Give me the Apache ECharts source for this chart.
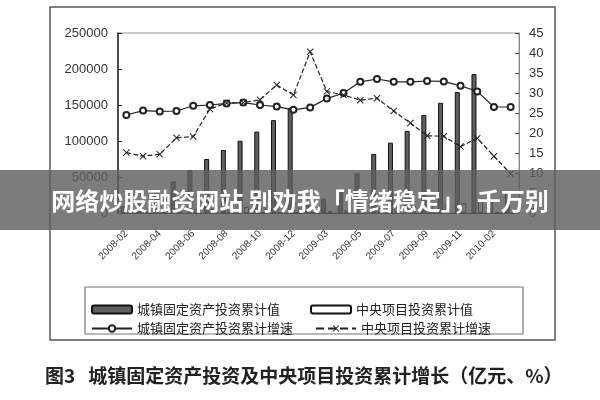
<!DOCTYPE html>
<html>
<head>
<meta charset="utf-8">
<script src="https://cdn.jsdelivr.net/npm/echarts@6/dist/echarts.min.js"></script>
<style>html,body{margin:0;padding:0;background:#fff;}#c{width:600px;height:400px;}</style>
</head>
<body>
<div id="c"></div>
<script>
const categories = ['2008-02','2008-03','2008-04','2008-05','2008-06','2008-07','2008-08','2008-09','2008-10','2008-11','2008-12',
  '2009-02','2009-03','2009-04','2009-05','2009-06','2009-07','2009-08','2009-09','2009-10','2009-11','2009-12',
  '2010-02','2010-03'];
const faiValue = [9400, 17900, 29000, 44000, 59700, 75000, 87500, 100400, 113000, 129000, 146000,
  11000, 20000, 32000, 55000, 82000, 97600, 114000, 136000, 153000, 168000, 193000, 16000, 30000];
const centralValue = [900, 1700, 2700, 3800, 5200, 6200, 7300, 8400, 9600, 10800, 12800,
  1200, 2300, 3500, 5000, 7000, 8200, 9500, 11000, 12500, 14000, 17000, 1400, 2600];
const faiGrowth = [24.5, 25.6, 25.4, 25.5, 26.8, 27.0, 27.4, 27.6, 27.0, 26.6, 25.8,
  26.4, 28.6, 30.0, 32.8, 33.5, 32.8, 32.8, 33.0, 32.9, 31.8, 30.4, 26.5, 26.5];
const centralGrowth = [15.1, 14.2, 14.7, 18.8, 19.1, 26.0, 27.5, 27.6, 28.3, 32.0, 29.5,
  40.3, 30.4, 29.5, 28.2, 28.7, 25.5, 22.5, 19.3, 19.2, 16.6, 18.7, 14.2, 9.8];
const leftTicks = {min: 0, max: 250000, interval: 50000};
const rightTicks = {min: 0, max: 45, interval: 5};
const names = ['城镇固定资产投资累计值', '中央项目投资累计值', '城镇固定资产投资累计增速', '中央项目投资累计增速'];
const caption = '图3   城镇固定资产投资及中央项目投资累计增长（亿元、%）';
const banner = '网络炒股融资网站 别劝我「情绪稳定」，千万别';

const chart = echarts.init(document.getElementById('c'), null, {renderer: 'canvas'});
const xMark = 'path://M0,1L1,0L5,4L9,0L10,1L6,5L10,9L9,10L5,6L1,10L0,9L4,5Z';
const axisFont = {fontFamily: 'Liberation Sans, Arial', fontSize: 13, color: '#333'};
const legendBase = {itemWidth: 40, itemHeight: 8, itemGap: 0,
  textStyle: {fontFamily: 'Noto Sans CJK SC', fontSize: 13, color: '#222'}, selectedMode: false};

chart.setOption({
  animation: false,
  backgroundColor: '#fff',
  grid: {left: 118, right: 81, top: 33, bottom: 187, show: true, borderColor: '#999', borderWidth: 1},
  legend: [
    Object.assign({data: [names[0]], left: 86, top: 298}, legendBase),
    Object.assign({data: [names[1]], left: 305, top: 298}, legendBase),
    Object.assign({data: [names[2]], left: 86, top: 317}, legendBase),
    Object.assign({data: [names[3]], left: 310, top: 317}, legendBase)
  ],
  xAxis: {
    type: 'category', data: categories, boundaryGap: true,
    axisLine: {lineStyle: {color: '#222'}},
    axisTick: {show: false},
    axisLabel: {interval: 1, rotate: 45, fontFamily: 'Liberation Sans, Arial', fontSize: 10, color: '#333', margin: 19}
  },
  yAxis: [
    Object.assign({type: 'value', position: 'left',
      axisLine: {show: true, lineStyle: {color: '#222', width: 1.5}},
      axisTick: {show: true, inside: true, length: 4, lineStyle: {color: '#222'}},
      axisLabel: Object.assign({margin: 10, formatter: v => String(v)}, axisFont),
      splitLine: {show: false}}, leftTicks),
    Object.assign({type: 'value', position: 'right',
      axisLine: {show: true, lineStyle: {color: '#888'}},
      axisTick: {show: true, inside: true, length: 4, lineStyle: {color: '#444'}},
      axisLabel: Object.assign({margin: 10}, axisFont),
      splitLine: {show: false}}, rightTicks)
  ],
  series: [
    {name: names[0], type: 'bar', yAxisIndex: 0, data: faiValue, barWidth: 5, barGap: '30%',
      itemStyle: {color: '#5f5f5f', borderColor: '#111', borderWidth: 1}},
    {name: names[1], type: 'bar', yAxisIndex: 0, data: centralValue, barWidth: 5,
      itemStyle: {color: '#fff', borderColor: '#111', borderWidth: 1}},
    {name: names[2], type: 'line', yAxisIndex: 1, data: faiGrowth,
      symbol: 'emptyCircle', symbolSize: 6,
      lineStyle: {color: '#222', width: 1.2}, itemStyle: {color: '#222', borderWidth: 1.2}},
    {name: names[3], type: 'line', yAxisIndex: 1, data: centralGrowth,
      symbol: xMark, symbolSize: 7,
      lineStyle: {color: '#222', width: 1.2, type: 'dashed'}, itemStyle: {color: '#222'}}
  ],
  graphic: [
    {type: 'rect', shape: {x: 50, y: 7, width: 505, height: 333}, style: {fill: 'none', stroke: '#555', lineWidth: 1.5}, silent: true, z: 0},
    {type: 'rect', shape: {x: 85, y: 287, width: 438, height: 47}, style: {fill: 'none', stroke: '#777', lineWidth: 1.2}, silent: true, z: 0},
    {type: 'text', left: 45, top: 366, style: {text: caption, font: 'bold 19px "Noto Sans CJK SC"', fill: '#222'}, silent: true},
    {type: 'rect', shape: {x: 0, y: 170, width: 600, height: 60}, style: {fill: 'rgba(95,95,95,0.82)'}, silent: true, z: 100},
    {type: 'text', x: 300, y: 201, style: {text: banner, font: 'bold 24px "Noto Sans CJK SC"', fill: '#fff', textAlign: 'center', textVerticalAlign: 'middle'}, silent: true, z: 101}
  ]
});
</script>
</body>
</html>
